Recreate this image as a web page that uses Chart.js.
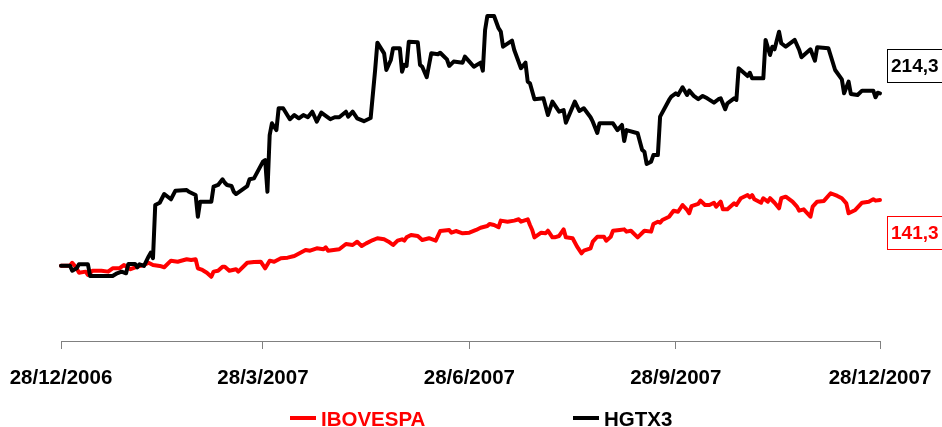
<!DOCTYPE html>
<html lang="pt-BR">
<head>
<meta charset="UTF-8">
<title>IBOVESPA x HGTX3</title>
<script src="https://cdn.jsdelivr.net/npm/chart.js"></script>
<style>
  body { margin: 0; background: #fff; }
</style>
</head>
<body>
<canvas id="chart" width="942" height="427"></canvas>
<script>
// days counted from 28/12/2006, both series rebased to 100
const tickDays = [0, 90, 182, 274, 365];
const tickLabels = ['28/12/2006', '28/3/2007', '28/6/2007', '28/9/2007', '28/12/2007'];

const seriesNames = ['IBOVESPA', 'HGTX3'];
const endValues = [141.3, 214.3];

const iboDays = [0, 4, 5, 7, 8, 11, 12, 14, 18, 21, 23, 26, 28, 31, 34, 37, 39, 41, 44, 46,
  49, 52, 56, 58, 60, 61, 63, 65, 67, 68, 70, 72, 73, 75, 78, 79, 83, 86, 89, 91,
  93, 95, 98, 101, 104, 109, 111, 114, 117, 118, 119, 124, 127, 130, 132, 134, 136, 139, 141, 144,
  146, 148, 150, 152, 153, 154, 156, 159, 161, 164, 167, 169, 173, 174, 176, 179, 182, 185, 187, 190,
  191, 193, 195, 196, 199, 202, 204, 205, 208, 209, 210, 211, 214, 216, 217, 219, 220, 222, 224, 225,
  228, 230, 232, 233, 236, 237, 239, 242, 243, 245, 246, 249, 251, 252, 254, 257, 260, 263, 264, 266,
  267, 268, 271, 273, 275, 277, 279, 280, 281, 284, 285, 287, 289, 291, 292, 294, 295, 297, 300, 301,
  303, 306, 307, 308, 309, 312, 313, 315, 316, 318, 320, 321, 323, 326, 328, 329, 331, 334, 335, 337,
  340, 343, 346, 348, 350, 351, 354, 357, 360, 362, 363, 365];
const iboValues = [100.0, 100.0, 102.0, 98.3, 95.4, 96.1, 93.9, 96.7, 96.7, 96.1, 98.3, 98.3, 100.5, 97.7, 99.4, 100.5, 102.0, 100.5, 99.9, 99.0,
  103.4, 102.7, 104.3, 103.8, 104.3, 98.3, 97.2, 95.4, 92.7, 96.1, 96.7, 99.4, 99.4, 96.7, 97.7, 96.1, 102.0, 102.5, 102.7, 98.3,
  103.4, 102.7, 105.0, 105.4, 106.5, 110.5, 110.0, 111.6, 111.0, 112.3, 110.0, 111.0, 114.5, 113.8, 116.0, 113.1, 114.9, 117.1, 118.3, 117.6,
  116.0, 113.8, 116.7, 117.6, 116.7, 118.9, 120.5, 119.8, 117.1, 118.3, 116.7, 123.1, 123.8, 122.0, 123.1, 121.6, 122.0, 123.8, 125.3, 126.4,
  127.8, 127.1, 125.6, 130.0, 129.3, 130.0, 130.9, 129.3, 130.9, 127.1, 123.8, 118.9, 122.0, 121.6, 123.3, 118.9, 118.9, 119.8, 124.2, 118.9,
  118.3, 112.7, 108.3, 110.0, 111.6, 116.0, 119.3, 119.3, 116.7, 119.3, 123.3, 123.8, 124.2, 122.7, 123.3, 118.9, 123.3, 122.7, 127.8, 129.3,
  128.6, 130.4, 132.6, 136.6, 135.9, 140.4, 137.1, 134.9, 139.7, 141.1, 143.3, 140.4, 140.4, 141.9, 139.3, 142.6, 137.5, 137.5, 141.5, 140.4,
  144.9, 147.0, 145.5, 147.0, 144.2, 141.9, 144.9, 142.6, 144.9, 141.9, 138.2, 144.9, 145.9, 142.6, 139.3, 136.6, 137.5, 132.6, 139.3, 142.6,
  143.1, 148.2, 146.4, 144.9, 141.5, 134.9, 137.1, 141.9, 142.6, 144.2, 143.3, 143.7];

const hgtxDays = [0, 4, 5, 7, 8, 12, 13, 23, 25, 27, 29, 30, 33, 34, 35, 37, 39, 40, 41, 42,
  44, 46, 49, 51, 56, 57, 60, 61, 62, 67, 68, 70, 72, 73, 74, 76, 77, 78, 83, 84,
  86, 90, 91, 92, 93, 94, 95, 96, 97, 99, 102, 104, 106, 108, 110, 112, 114, 116, 120, 122,
  124, 127, 128, 130, 132, 135, 138, 140, 141, 144, 145, 147, 148, 151, 152, 153, 154, 155, 159, 160,
  161, 163, 165, 168, 169, 170, 172, 173, 175, 179, 180, 182, 184, 187, 188, 189, 190, 193, 195, 196,
  197, 201, 202, 205, 207, 208, 209, 211, 215, 217, 219, 222, 224, 225, 229, 231, 233, 236, 237, 239,
  240, 246, 248, 250, 251, 252, 257, 259, 260, 261, 263, 264, 266, 267, 271, 272, 274, 275, 277, 279,
  280, 282, 284, 286, 288, 291, 293, 294, 296, 297, 300, 301, 302, 306, 307, 308, 313, 314, 316, 317,
  318, 320, 321, 323, 327, 329, 330, 334, 336, 337, 342, 345, 348, 349, 351, 352, 355, 357, 362, 363,
  364, 365];
const hgtxValues = [100.0, 100.0, 96.7, 98.3, 101.0, 101.0, 93.2, 93.2, 95.0, 96.1, 95.0, 101.2, 101.2, 99.0, 101.0, 99.9, 106.0, 108.7, 105.0, 140.4,
  141.9, 147.7, 144.2, 149.9, 150.4, 149.2, 147.0, 132.6, 142.6, 142.6, 152.6, 153.7, 157.5, 155.2, 153.7, 153.0, 149.2, 147.7, 153.0, 157.5,
  158.1, 169.2, 170.3, 149.2, 186.9, 194.7, 192.4, 190.2, 204.7, 204.7, 197.4, 200.2, 198.0, 200.2, 198.7, 202.4, 195.8, 201.8, 197.4, 198.7,
  198.7, 202.4, 199.1, 202.4, 198.0, 196.1, 198.2, 230.1, 248.3, 241.2, 230.1, 236.8, 244.6, 244.6, 229.0, 233.5, 232.8, 248.9, 248.5, 233.5,
  232.3, 225.3, 241.2, 240.6, 241.6, 240.1, 237.2, 232.8, 235.7, 235.0, 239.0, 235.7, 232.3, 235.0, 229.7, 256.7, 266.0, 266.0, 257.9, 255.6,
  245.6, 249.6, 243.4, 231.3, 235.0, 222.4, 221.3, 210.7, 211.3, 200.2, 209.1, 202.4, 203.5, 195.1, 209.1, 202.9, 204.7, 198.7, 195.8, 188.3,
  194.7, 194.7, 190.2, 193.6, 182.9, 190.2, 188.1, 177.0, 175.8, 167.7, 169.2, 173.6, 173.6, 199.1, 210.2, 212.4, 214.6, 213.5, 218.6, 213.5,
  216.4, 212.9, 210.7, 212.9, 211.3, 208.4, 210.7, 211.3, 204.0, 208.0, 211.3, 210.2, 231.3, 226.1, 228.3, 224.6, 224.6, 250.1, 240.1, 245.6,
  243.9, 255.6, 247.9, 245.6, 250.1, 243.4, 238.6, 243.9, 236.3, 245.2, 244.6, 230.1, 223.9, 214.6, 222.4, 214.2, 213.5, 216.4, 216.4, 212.0,
  215.0, 214.6];

const toPoints = (days, values) => days.map((d, i) => ({ x: d, y: values[i] }));

const FONT = '"Liberation Sans", Arial, sans-serif';

// legend under the axis + boxed last values on the right
const extras = {
  id: 'extras',
  afterDatasetsDraw(chart) {
    const ctx = chart.ctx;
    ctx.save();
    chart.data.datasets.forEach((ds, i) => {
      const meta = chart.getDatasetMeta(i);
      const last = meta.data[meta.data.length - 1];
      const cy = Math.round(last.y + ds.labelShift);

      ctx.lineWidth = 1;
      ctx.strokeStyle = ds.borderColor;
      ctx.fillStyle = '#fff';
      ctx.fillRect(887.5, cy - 16.5, 60, 33);
      ctx.strokeRect(887.5, cy - 16.5, 60, 33);
      ctx.fillStyle = ds.borderColor;
      ctx.font = 'bold 19px ' + FONT;
      ctx.textBaseline = 'middle';
      ctx.textAlign = 'left';
      ctx.fillText(endValues[i].toFixed(1).replace('.', ','), 891, cy + 1);

      const lx = ds.legendX;
      ctx.lineWidth = 4;
      ctx.beginPath();
      ctx.moveTo(lx, 418);
      ctx.lineTo(lx + 26, 418);
      ctx.stroke();
      ctx.font = 'bold 20.5px ' + FONT;
      ctx.fillText(ds.label, lx + 31, 420);
    });
    ctx.restore();
  }
};

new Chart(document.getElementById('chart'), {
  type: 'line',
  data: {
    datasets: [
      {
        label: seriesNames[0],
        data: toPoints(iboDays, iboValues),
        borderColor: '#ff0000',
        order: 1,
        labelShift: 32.5,
        legendX: 290
      },
      {
        label: seriesNames[1],
        data: toPoints(hgtxDays, hgtxValues),
        borderColor: '#000000',
        order: 0,
        labelShift: -27,
        legendX: 573
      }
    ]
  },
  options: {
    responsive: false,
    animation: false,
    devicePixelRatio: 1,
    layout: { padding: { left: 61, right: 62, top: 10, bottom: 0 } },
    elements: {
      line: { borderWidth: 4, tension: 0, borderJoinStyle: 'round', borderCapStyle: 'round' },
      point: { radius: 0 }
    },
    datasets: { line: { clip: false } },
    scales: {
      x: {
        type: 'linear',
        min: 0,
        max: 365,
        afterBuildTicks: s => { s.ticks = tickDays.map(v => ({ value: v })); },
        afterFit: s => {
          s.height = 86;
          s.paddingLeft = 0;
          s.paddingRight = 0;
        },
        grid: { drawOnChartArea: false, drawTicks: true, tickLength: 8, color: '#808080', tickColor: '#808080' },
        border: { display: true, color: '#808080', width: 1 },
        ticks: {
          autoSkip: false,
          maxRotation: 0,
          padding: 17,
          color: '#000',
          font: { family: FONT, size: 20.5, weight: 'bold' },
          callback: (v, i) => tickLabels[i]
        }
      },
      y: { display: false, min: 50, max: 270 }
    },
    plugins: {
      legend: { display: false },
      tooltip: { enabled: false }
    }
  },
  plugins: [extras]
});
</script>
</body>
</html>
